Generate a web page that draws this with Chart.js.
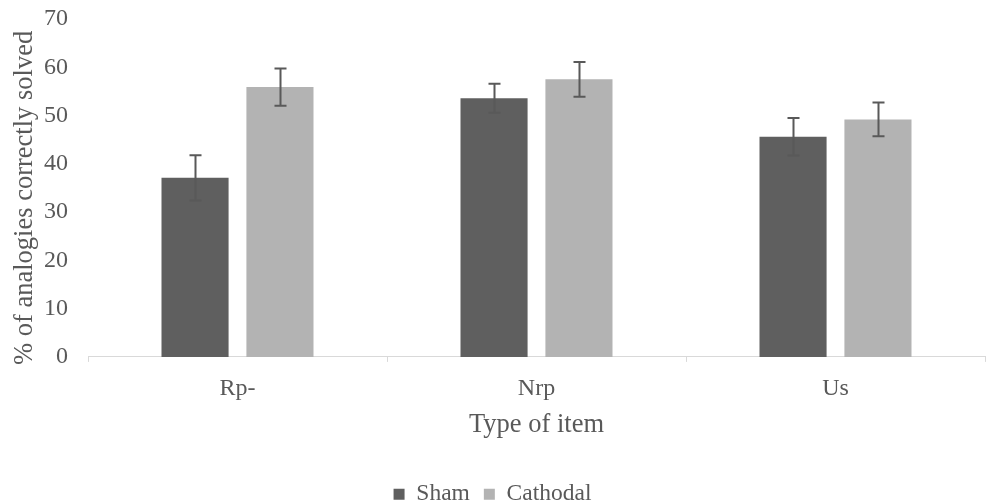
<!DOCTYPE html>
<html>
<head>
<meta charset="utf-8">
<script src="https://cdn.jsdelivr.net/npm/chart.js@4.4.1/dist/chart.umd.min.js"></script>
<style>
  html, body { margin: 0; padding: 0; background: #fff; }
  #wrap { width: 986px; height: 502px; }
</style>
</head>
<body>
<div id="wrap"><canvas id="chart"></canvas></div>
<script>
const categories = ['Rp-', 'Nrp', 'Us'];
const shamValues = [37.1, 53.6, 45.6];
const shamErrors = [4.7, 3.0, 3.9];
const cathodalValues = [55.9, 57.5, 49.2];
const cathodalErrors = [3.85, 3.6, 3.5];
const yTicks = [0, 10, 20, 30, 40, 50, 60, 70];

const fontFamily = '"Liberation Serif", "Times New Roman", serif';
const textColor = '#595959';

// draws the error bars on top of each bar
const errorBars = {
    id: 'errorBars',
    afterDatasetsDraw(chart) {
        let ctx = chart.ctx;
        let yScale = chart.scales.y;
        ctx.save();
        ctx.strokeStyle = '#595959';
        ctx.lineWidth = 2;
        chart.data.datasets.forEach((ds, i) => {
            let meta = chart.getDatasetMeta(i);
            meta.data.forEach((bar, j) => {
                let v = ds.data[j];
                let e = ds.errors[j];
                let top = yScale.getPixelForValue(v + e);
                let bottom = yScale.getPixelForValue(v - e);
                let x = Math.round(bar.x) + 0.5;
                ctx.beginPath();
                ctx.moveTo(x, top);
                ctx.lineTo(x, bottom);
                ctx.moveTo(x - 6, top);
                ctx.lineTo(x + 6, top);
                ctx.moveTo(x - 6, bottom);
                ctx.lineTo(x + 6, bottom);
                ctx.stroke();
            });
        });
        ctx.restore();
    }
};

new Chart($id('chart'), {
    type: 'bar',
    data: {
        labels: categories,
        datasets: [
            {
                label: 'Sham',
                data: shamValues,
                errors: shamErrors,
                backgroundColor: '#5f5f5f'
            },
            {
                label: 'Cathodal',
                data: cathodalValues,
                errors: cathodalErrors,
                backgroundColor: '#b3b3b3'
            }
        ]
    },
    options: {
        responsive: true,
        maintainAspectRatio: false,
        animation: false,
        categoryPercentage: 0.568,
        barPercentage: 0.79,
        layout: { padding: { top: 19, right: 1, bottom: -14, left: 0 } },
        plugins: {
            legend: {
                position: 'bottom',
                labels: {
                    boxWidth: 11,
                    boxHeight: 11,
                    padding: 14,
                    color: textColor,
                    font: { family: fontFamily, size: 23.5 }
                }
            },
            tooltip: { enabled: false }
        },
        scales: {
            x: {
                grid: {
                    offset: true,
                    drawOnChartArea: false,
                    tickLength: 5,
                    color: '#d9d9d9'
                },
                border: { color: '#d9d9d9', width: 1 },
                ticks: {
                    color: textColor,
                    padding: 12,
                    font: { family: fontFamily, size: 24 }
                },
                title: {
                    display: true,
                    text: 'Type of item',
                    color: textColor,
                    padding: { top: -6, bottom: 28 },
                    font: { family: fontFamily, size: 26.5 }
                }
            },
            y: {
                min: 0,
                max: 70,
                afterBuildTicks(scale) {
                    scale.ticks = yTicks.map(v => ({ value: v }));
                },
                afterFit(scale) {
                    scale.width = 88;
                },
                grid: { display: false, tickLength: 20 },
                border: { display: false },
                ticks: {
                    color: textColor,
                    padding: 0,
                    font: { family: fontFamily, size: 24 }
                },
                title: {
                    display: true,
                    // trailing spaces nudge the centred title a bit lower, like the original
                    text: '% of analogies correctly solved\u00a0\u00a0\u00a0',
                    color: textColor,
                    padding: { top: 9, bottom: 0 },
                    font: { family: fontFamily, size: 26.5 }
                }
            }
        }
    },
    plugins: [errorBars]
});

function $id(id) { return document.getElementById(id); }
</script>
</body>
</html>
